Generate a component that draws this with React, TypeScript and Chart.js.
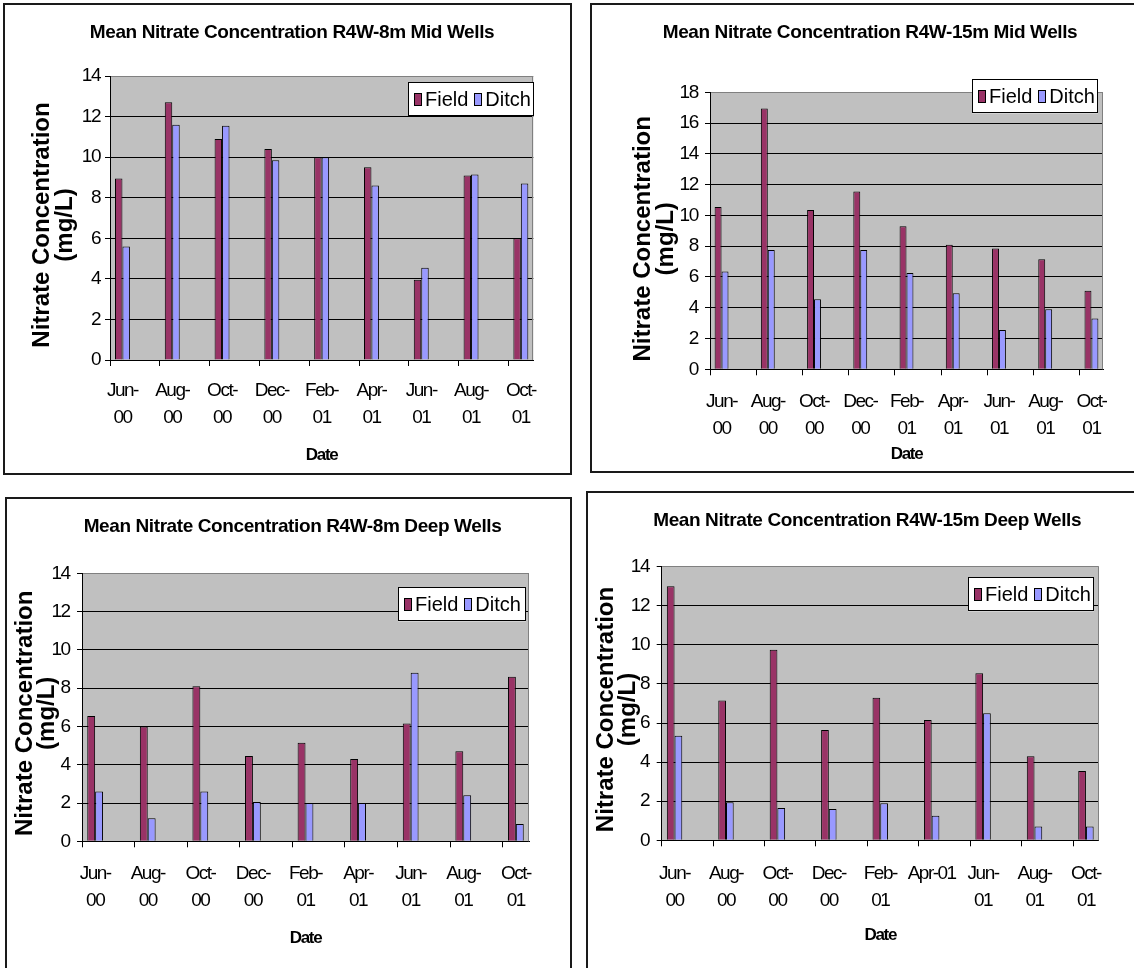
import React, { useEffect, useRef } from 'react';
import { Chart, registerables } from 'chart.js';

Chart.register(...registerables);

const FONT = '"Liberation Sans", Arial, Helvetica, sans-serif';

// ---------------- data ----------------
const dateLabels: (string | string[])[] = [
  ['Jun-', '00'], ['Aug-', '00'], ['Oct-', '00'], ['Dec-', '00'], ['Feb-', '01'],
  ['Apr-', '01'], ['Jun-', '01'], ['Aug-', '01'], ['Oct-', '01'],
];
const dateLabelsDeep15: (string | string[])[] = [
  ['Jun-', '00'], ['Aug-', '00'], ['Oct-', '00'], ['Dec-', '00'], ['Feb-', '01'],
  ['Apr-01'], ['Jun-', '01'], ['Aug-', '01'], ['Oct-', '01'],
];
const seriesNames = ['Field', 'Ditch'];
const yAxisTitle = ['Nitrate Concentration', '(mg/L)'];
const xAxisTitle = 'Date';

const mid8Field = [8.95, 12.7, 10.9, 10.4, 10.0, 9.5, 3.95, 9.1, 6.0];
const mid8Ditch = [5.6, 11.6, 11.55, 9.85, 10.0, 8.6, 4.55, 9.15, 8.7];

const mid15Field = [10.55, 16.95, 10.35, 11.55, 9.3, 8.1, 7.85, 7.15, 5.1];
const mid15Ditch = [6.35, 7.75, 4.55, 7.75, 6.25, 4.95, 2.55, 3.9, 3.3];

const deep8Field = [6.55, 6.0, 8.1, 4.45, 5.15, 4.3, 6.15, 4.7, 8.6];
const deep8Ditch = [2.6, 1.2, 2.6, 2.05, 2.0, 2.0, 8.8, 2.4, 0.9];

const deep15Field = [13.0, 7.15, 9.75, 5.65, 7.3, 6.15, 8.55, 4.3, 3.55];
const deep15Ditch = [5.35, 1.95, 1.65, 1.6, 1.9, 1.25, 6.5, 0.7, 0.7];

// ---------------- layout / style specs ----------------
const specs: any[] = [
  {
    key: 'mid8', title: 'Mean Nitrate Concentration R4W-8m Mid Wells', ymax: 14,
    field: mid8Field, ditch: mid8Ditch, ticks: dateLabels,
    box: { left: 3, top: 3 }, w: 565, h: 468,
    plot: { l: 105, r: 528.3, t: 71, b: 355 },
    yTitleX: 37.5, yTickPad: 5, xTickPad: 11.5, dateY: 450,
    legend: { x: 403, y: 77, w: 126, h: 34 }, titleCx: 287, yTitleDy: 7,
  },
  {
    key: 'mid15', title: 'Mean Nitrate Concentration R4W-15m Mid Wells', ymax: 18,
    field: mid15Field, ditch: mid15Ditch, ticks: dateLabels,
    box: { left: 590, top: 3 }, w: 556, h: 466,
    plot: { l: 118, r: 511, t: 87.3, b: 364.3 },
    yTitleX: 51.7, yTickPad: 7.3, xTickPad: 12.6, dateY: 449,
    legend: { x: 380, y: 74.3, w: 126, h: 34 }, titleCx: 278, yTitleDy: 8,
  },
  {
    key: 'deep8', title: 'Mean Nitrate Concentration R4W-8m Deep Wells', ymax: 14,
    field: deep8Field, ditch: deep8Ditch, ticks: dateLabels,
    box: { left: 5, top: 497 }, w: 563, h: 469,
    plot: { l: 75, r: 522, t: 74.3, b: 342.3 },
    yTitleX: 18, yTickPad: 7.4, xTickPad: 12.6, dateY: 439.5,
    legend: { x: 391, y: 88.3, w: 128, h: 34 }, titleCx: 285.5, yTitleDy: 6,
  },
  {
    key: 'deep15', title: 'Mean Nitrate Concentration R4W-15m Deep Wells', ymax: 14,
    field: deep15Field, ditch: deep15Ditch, ticks: dateLabelsDeep15,
    box: { left: 586, top: 491 }, w: 558, h: 475,
    plot: { l: 73.7, r: 510.8, t: 73.7, b: 347.3 },
    yTitleX: 18, yTickPad: 7.7, xTickPad: 13.6, dateY: 442,
    legend: { x: 380, y: 84.3, w: 126, h: 34 }, titleCx: 279.2, yTitleDy: 6,
  },
];

// one slot per month: sampled every second month, empty months in between
function toMonthlySlots<T>(vals: T[], filler: T): T[] {
  const out: T[] = [];
  vals.forEach((v, i) => {
    out.push(v);
    if (i < vals.length - 1) out.push(filler);
  });
  return out;
}

function patch(obj: any, method: string, spacing: string, dx: number, dy: number) {
  if (!obj || obj['__patched_' + method]) return;
  const orig = obj[method];
  obj[method] = function (...args: any[]) {
    const ctx = this.ctx;
    ctx.save();
    try { (ctx as any).letterSpacing = spacing; } catch (e) { /* ignore */ }
    ctx.translate(dx, dy);
    try {
      return orig.apply(this, args);
    } finally {
      ctx.restore();
    }
  };
  obj['__patched_' + method] = true;
}

function makeChart(canvas: HTMLCanvasElement, spec: any) {
  const padRight = spec.w - spec.plot.r;
  const titleDx = spec.titleCx - (spec.w - padRight) / 2;
  const titleSize = 19;
  const titleLH = titleSize * 1.2;

  const textTweaks = {
    id: 'textTweaks',
    beforeDraw(chart: any) {
      patch(chart.titleBlock, 'draw', '-0.4px', titleDx, 0);
      patch(chart.scales.x, 'drawLabels', '-1.5px', 0, 0);
      patch(chart.scales.x, 'drawTitle', '-1.3px', 0, 0);
      patch(chart.scales.y, 'drawLabels', '-1.5px', 0, 0);
      patch(chart.scales.y, 'drawTitle', '0px', 0, spec.yTitleDy);
    },
  };

  const plotArea = {
    id: 'plotArea',
    beforeDraw(chart: any) {
      const { ctx, chartArea: a } = chart;
      ctx.save();
      ctx.fillStyle = '#C0C0C0';
      ctx.fillRect(a.left, a.top, a.right - a.left, a.bottom - a.top);
      ctx.restore();
    },
    beforeDatasetsDraw(chart: any) {
      const { ctx, chartArea: a } = chart;
      const x = Math.round(a.right) - 0.5;
      ctx.save();
      ctx.strokeStyle = '#808080';
      ctx.lineWidth = 1;
      ctx.beginPath();
      ctx.moveTo(x, a.top);
      ctx.lineTo(x, a.bottom);
      ctx.stroke();
      ctx.restore();
    },
  };

  const boxLegend = {
    id: 'boxLegend',
    afterDraw(chart: any) {
      const { ctx } = chart;
      const L = spec.legend;
      ctx.save();
      ctx.fillStyle = '#ffffff';
      ctx.fillRect(L.x, L.y, L.w, L.h);
      ctx.strokeStyle = '#000000';
      ctx.lineWidth = 1;
      ctx.strokeRect(Math.round(L.x) + 0.5, Math.round(L.y) + 0.5, L.w - 1, L.h - 1);
      ctx.font = `20px ${FONT}`;
      ctx.textBaseline = 'middle';
      ctx.textAlign = 'left';
      let cx = L.x + 6;
      chart.data.datasets.forEach((ds: any) => {
        const sy = Math.round(L.y + 11);
        const sx = Math.round(cx);
        ctx.fillStyle = ds.backgroundColor;
        ctx.fillRect(sx, sy, 8, 13);
        ctx.strokeStyle = '#000';
        ctx.strokeRect(sx + 0.5, sy + 0.5, 7, 12);
        ctx.fillStyle = '#000';
        ctx.fillText(ds.label, cx + 11, L.y + L.h / 2 + 1);
        cx += 11 + ctx.measureText(ds.label).width + 6;
      });
      ctx.restore();
    },
  };

  const labels = toMonthlySlots<any>(spec.ticks, '');
  const colors = ['#993366', '#9999FF'];
  const values = [spec.field, spec.ditch];

  return new Chart(canvas, {
    type: 'bar',
    data: {
      labels,
      datasets: seriesNames.map((name, i) => ({
        label: name,
        data: toMonthlySlots<any>(values[i], null),
        backgroundColor: colors[i],
        borderColor: '#000000',
        borderWidth: 1,
        categoryPercentage: 0.6,
        barPercentage: 1.0,
      })),
    },
    options: {
      responsive: false,
      animation: false,
      devicePixelRatio: 1,
      layout: {
        padding: { left: 0, top: 0, bottom: 0, right: padRight },
      },
      plugins: {
        legend: { display: false },
        tooltip: { enabled: false },
        title: {
          display: true,
          text: spec.title,
          color: '#000',
          font: { family: FONT, size: titleSize, weight: 'bold', lineHeight: 1.2 },
          padding: { top: 28 - titleLH / 2, bottom: spec.plot.t - 28 - titleLH / 2 },
        },
      },
      scales: {
        x: {
          type: 'category',
          offset: true,
          grid: {
            offset: true,
            drawOnChartArea: false,
            drawTicks: true,
            tickLength: 6,
            color: 'rgba(0,0,0,0)',
            tickColor: (c: any) =>
              c.index !== undefined && c.index % 2 === 0 ? '#000' : 'rgba(0,0,0,0)',
          },
          border: { display: true, color: '#000', width: 1 },
          ticks: {
            autoSkip: false,
            maxRotation: 0,
            minRotation: 0,
            padding: spec.xTickPad,
            color: '#000',
            font: { family: FONT, size: 19, lineHeight: 1.42 },
          },
          title: {
            display: true,
            text: xAxisTitle,
            color: '#000',
            font: { family: FONT, size: 17, weight: 'bold', lineHeight: 1.2 },
            padding: { top: 0, bottom: spec.h - spec.dateY - 10.2 },
          },
          afterFit: (s: any) => {
            s.height = spec.h - spec.plot.b;
          },
        },
        y: {
          min: 0,
          max: spec.ymax,
          ticks: {
            stepSize: 2,
            padding: spec.yTickPad,
            color: '#000',
            font: { family: FONT, size: 19 },
          },
          grid: {
            color: (c: any) => (c.tick && c.tick.value === spec.ymax ? '#808080' : '#000'),
            tickColor: '#000',
            tickLength: 5,
            lineWidth: 1,
          },
          border: { display: true, color: '#000', width: 1 },
          title: {
            display: true,
            text: yAxisTitle,
            color: '#000',
            font: { family: FONT, size: 24, weight: 'bold', lineHeight: 0.95 },
            padding: { top: spec.yTitleX - 11.4, bottom: 0 },
          },
          afterFit: (s: any) => {
            s.width = spec.plot.l;
          },
        },
      },
    } as any,
    plugins: [plotArea, textTweaks, boxLegend],
  });
}

function NitrateChart({ spec }: { spec: any }) {
  const ref = useRef<HTMLCanvasElement | null>(null);
  useEffect(() => {
    if (!ref.current) return;
    const chart = makeChart(ref.current, spec);
    return () => chart.destroy();
  }, [spec]);
  return (
    <div
      style={{
        position: 'absolute',
        left: spec.box.left,
        top: spec.box.top,
        width: spec.w,
        height: spec.h,
        border: '2px solid #1a1a1a',
        background: '#fff',
      }}
    >
      <canvas
        ref={ref}
        width={spec.w}
        height={spec.h}
        style={{ display: 'block', width: spec.w, height: spec.h }}
      />
    </div>
  );
}

export default function App() {
  return (
    <div
      style={{
        position: 'absolute',
        left: 0,
        top: 0,
        width: 1134,
        height: 968,
        overflow: 'hidden',
        background: '#fff',
      }}
    >
      {specs.map((s) => (
        <NitrateChart key={s.key} spec={s} />
      ))}
    </div>
  );
}
